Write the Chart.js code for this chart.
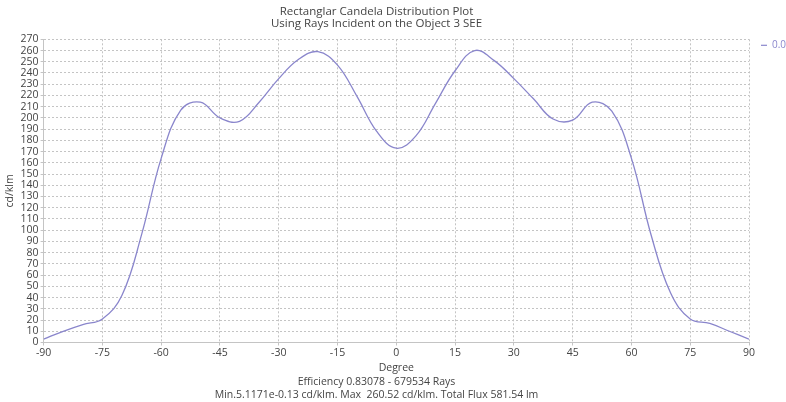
<!DOCTYPE html>
<html>
<head>
<meta charset="utf-8">
<script src="https://cdn.jsdelivr.net/npm/chart.js"></script>
<style>
  * { margin:0; padding:0 }
  body { background:#fff; width:786px; height:402px; overflow:hidden }
  #wrap { position:relative; width:786px; height:402px }
</style>
</head>
<body>
<div id="wrap"><canvas id="c" width="786" height="402"></canvas></div>
<script>
// degrees and candela values
const degrees = [-90,-85,-80,-75,-70,-65,-60,-55,-50,-45,-40,-35,-30,-25,-20,-15,-10,-5,0,
                 5,10,15,20,25,30,35,40,45,50,55,60,65,70,75,80,85,90];
const candela = [3,10,16,21,42,96,164,207,214,200,197,214,235,252,259,247,219,188,173,
                 184,213,242,260,251,235,217,199,198,214,206,164,96,44,21,17,10,3];
const titleLines = ['Rectanglar Candela Distribution Plot', 'Using Rays Incident on the Object 3 SEE'];
const footLines = ['Efficiency 0.83078 - 679534 Rays',
                   'Min.5.1171e-0.13 cd/klm. Max  260.52 cd/klm. Total Flux 581.54 lm'];
const legendText = '0.0';

const txt = '#444';
const fontFam = '"Open Sans", sans-serif';

// small legend drawn to the right of the plot
const sideLegend = {
  id:'sideLegend',
  afterDraw(chart) {
    const ctx = chart.ctx, a = chart.chartArea;
    ctx.save();
    ctx.strokeStyle = '#8a86cc'; ctx.lineWidth = 1.2;
    ctx.beginPath(); ctx.moveTo(a.right + 12, a.top + 6); ctx.lineTo(a.right + 18, a.top + 6); ctx.stroke();
    ctx.fillStyle = '#8a86cc'; ctx.font = '10px ' + fontFam; ctx.textBaseline = 'middle';
    ctx.fillText(legendText, a.right + 23, a.top + 6);
    ctx.restore();
  }
};

new Chart(document.getElementById('c'), {
  type:'line',
  data:{ datasets:[{
    data: degrees.map((d,i) => ({x:d, y:candela[i]})),
    borderColor:'#8a86cc', borderWidth:1.3, pointRadius:0,
    tension:0.4, fill:false
  }]},
  options:{
    responsive:false, animation:false,
    layout:{ padding:{ left:4, right:37, top:0, bottom:0 } },
    plugins:{
      legend:{ display:false },
      tooltip:{ enabled:false },
      title:{ display:true, text:titleLines, color:txt,
              font:{ family:fontFam, size:11.5, weight:'normal', lineHeight:1.1 },
              padding:{ top:5, bottom:9 } },
      subtitle:{ display:true, position:'bottom', text:footLines, color:txt,
                 font:{ family:fontFam, size:10.5, weight:'normal', lineHeight:1.3 },
                 padding:{ top:0, bottom:0 } }
    },
    scales:{
      x:{ type:'linear', min:-90, max:90,
          ticks:{ stepSize:15, color:txt, font:{ family:fontFam, size:10.5 }, padding:1, maxRotation:0 },
          grid:{ color:'#c4c4c4', borderDash:[2,2], tickLength:3 },
          border:{ color:'#c4c4c4', dash:[2,2] },
          title:{ display:true, text:'Degree', color:txt, font:{ family:fontFam, size:10.5 }, padding:{ top:2, bottom:0 } } },
      y:{ min:0, max:270,
          ticks:{ stepSize:10, color:txt, font:{ family:fontFam, size:10.5 }, padding:2, autoSkip:false },
          grid:{ color:'#c4c4c4', borderDash:[2,2], tickLength:3 },
          border:{ color:'#c4c4c4', dash:[2,2] },
          title:{ display:true, text:'cd/klm', color:txt, font:{ family:fontFam, size:10.5 }, padding:{ top:0, bottom:2 } } }
    }
  },
  plugins:[sideLegend]
});
</script>
</body>
</html>
